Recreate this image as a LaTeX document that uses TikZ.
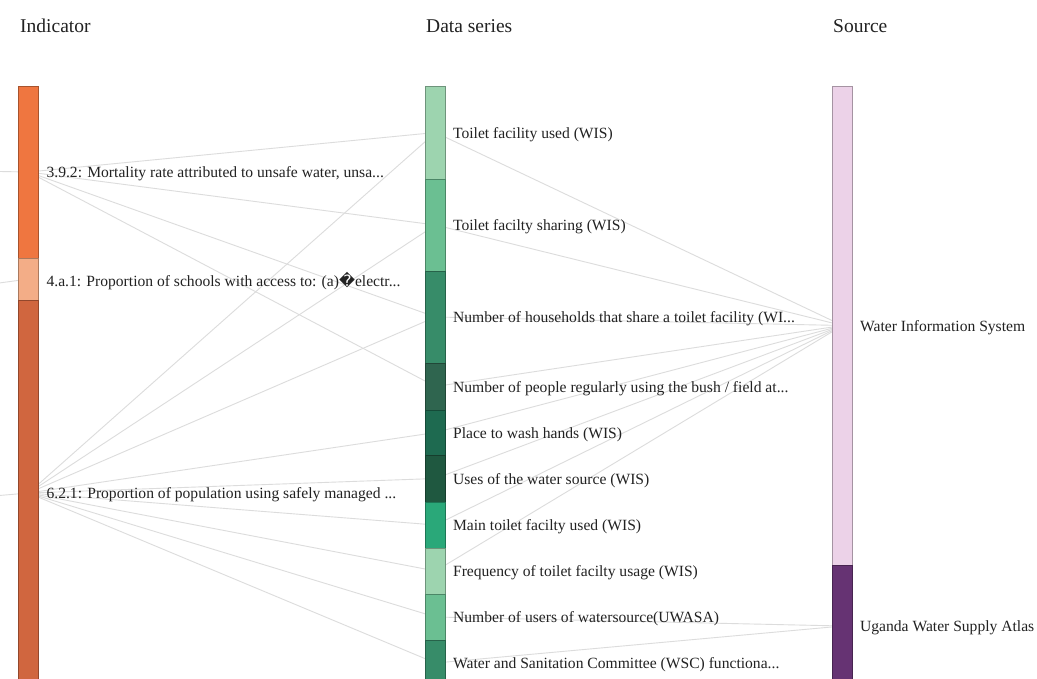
\documentclass[tikz,border=0pt]{standalone}
\usepackage{fontspec}
\setmainfont{Liberation Serif}
\newfontfamily\symfont{DejaVu Sans}
\usepackage{xcolor}
\usetikzlibrary{positioning,backgrounds}
\definecolor{ink}{HTML}{222222}
\definecolor{linkgray}{HTML}{DCDCDC}
\definecolor{indA}{HTML}{EF7640}
\definecolor{indB}{HTML}{F3AD87}
\definecolor{indC}{HTML}{D0663F}
\definecolor{dsPale}{HTML}{9DD4AF}
\definecolor{dsLight}{HTML}{6BBF92}
\definecolor{dsMid}{HTML}{378C69}
\definecolor{dsDeep}{HTML}{2F654F}
\definecolor{dsForest}{HTML}{1E6A50}
\definecolor{dsDark}{HTML}{1F5840}
\definecolor{dsBright}{HTML}{2AA879}
\definecolor{srcPink}{HTML}{ECD2E8}
\definecolor{srcPlum}{HTML}{663373}
\tikzset{
  bar/.style={draw=#1!70!black,fill=#1,line width=.8pt,minimum width=20pt,inner sep=0pt},
  link/.style={draw=linkgray,line width=.9pt},
  lbl/.style={font=\fontsize{15.6}{17}\selectfont,text=ink,inner sep=0pt,yshift=-1.8pt},
  head/.style={font=\fontsize{19.5}{21}\selectfont,text=ink,anchor=base west,inner sep=0pt},
}

\begin{document}
\begin{tikzpicture}[x=1pt,y=-1pt]
  \useasboundingbox (0,0) rectangle (1037,679);
  \clip (0,0) rectangle (1037,679);
  % column titles
  \node[head] (hInd) at (20,33) {Indicator};
  \node[head] (hDs) at (426,33) {Data series};
  \node[head] (hSrc) at (833,33) {Source};
  % indicators
  \node[bar=indA,minimum height=172pt] (ind392) at (28.5,172) {};
  \node[bar=indB,minimum height=42pt] (ind4a1) at (28.5,279) {};
  \node[bar=indC,minimum height=386pt] (ind621) at (28.5,493) {};
  \node[lbl,right=7.5pt of ind392] (l392) {3.9.2: Mortality rate attributed to unsafe water, unsa...};
  \node[lbl,right=7.5pt of ind4a1] (l4a1) {4.a.1: Proportion of schools with access to: (a){\symfont\char"FFFD}electr...};
  \node[lbl,right=7.5pt of ind621] (l621) {6.2.1: Proportion of population using safely managed ...};
  % data series
  \node[bar=dsPale,minimum height=93pt] (dsUsed) at (435.5,132.5) {};
  \node[bar=dsLight,minimum height=92pt] (dsSharing) at (435.5,225) {};
  \node[bar=dsMid,minimum height=92pt] (dsHouse) at (435.5,317) {};
  \node[bar=dsDeep,minimum height=47pt] (dsBush) at (435.5,386.5) {};
  \node[bar=dsForest,minimum height=45pt] (dsWash) at (435.5,432.5) {};
  \node[bar=dsDark,minimum height=47pt] (dsUses) at (435.5,478.5) {};
  \node[bar=dsBright,minimum height=46pt] (dsMain) at (435.5,525) {};
  \node[bar=dsPale,minimum height=46pt] (dsFreq) at (435.5,571) {};
  \node[bar=dsLight,minimum height=46pt] (dsUsers) at (435.5,617) {};
  \node[bar=dsMid,minimum height=46pt] (dsWsc) at (435.5,663) {};
  \node[lbl,right=7pt of dsUsed] (lUsed) {Toilet facility used (WIS)};
  \node[lbl,right=7pt of dsSharing] (lSharing) {Toilet facilty sharing (WIS)};
  \node[lbl,right=7pt of dsHouse] (lHouse) {Number of households that share a toilet facility (WI...};
  \node[lbl,right=7pt of dsBush] (lBush) {Number of people regularly using the bush / field at...};
  \node[lbl,right=7pt of dsWash] (lWash) {Place to wash hands (WIS)};
  \node[lbl,right=7pt of dsUses] (lUses) {Uses of the water source (WIS)};
  \node[lbl,right=7pt of dsMain] (lMain) {Main toilet facilty used (WIS)};
  \node[lbl,right=7pt of dsFreq] (lFreq) {Frequency of toilet facilty usage (WIS)};
  \node[lbl,right=7pt of dsUsers] (lUsers) {Number of users of watersource(UWASA)};
  \node[lbl,right=7pt of dsWsc] (lWsc) {Water and Sanitation Committee (WSC) functiona...};
  % sources
  \node[bar=srcPink,minimum height=479pt] (srcWis) at (842.5,325.5) {};
  \node[bar=srcPlum,minimum height=122pt] (srcAtlas) at (842.5,626) {};
  \node[lbl,right=7pt of srcWis] (lWis) {Water Information System};
  \node[lbl,right=7pt of srcAtlas] (lAtlas) {Uganda Water Supply Atlas};
  % links (behind the bars)
  \coordinate (inA) at (-30,171);
  \coordinate (inB) at (-30,287);
  \coordinate (inC) at (-30,498);
  \begin{scope}[on background layer]
    \fill[white] (0,0) rectangle (1037,679);
    \draw[link] (inA) -- (ind392);
    \draw[link] (inB) -- (ind4a1);
    \draw[link] (inC) -- (ind621);
    \foreach \ds in {dsUsed,dsSharing,dsHouse,dsBush}
      \draw[link] (ind392) -- (\ds);
    \foreach \ds in {dsUsed,dsSharing,dsHouse,dsWash,dsUses,dsMain,dsFreq,dsUsers,dsWsc}
      \draw[link] (ind621) -- (\ds);
    \foreach \ds in {dsUsed,dsSharing,dsHouse,dsBush,dsWash,dsUses,dsMain,dsFreq}
      \draw[link] (\ds) -- (srcWis);
    \foreach \ds in {dsUsers,dsWsc}
      \draw[link] (\ds) -- (srcAtlas);
  \end{scope}
\end{tikzpicture}
\end{document}
